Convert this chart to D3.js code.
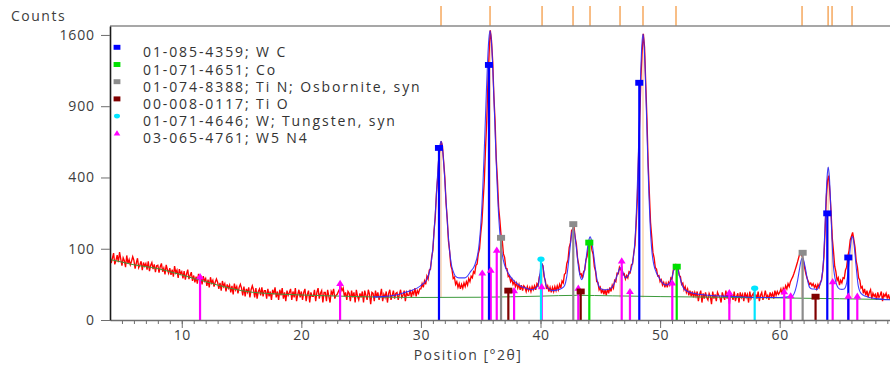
<!DOCTYPE html>
<html>
<head>
<meta charset="utf-8">
<script src="https://cdn.jsdelivr.net/npm/d3@7"></script>
<style>
  body { margin: 0; background: #fff; }
  svg { display: block; }
  text { font-family: "Open Sans", "Noto Sans", sans-serif; }
</style>
</head>
<body>
<svg id="chart" width="890" height="367"></svg>
<script>
// ---- Measured pattern: counts on a 0.1° grid starting at 4.0 °2θ ----
const obsStart = 4.0;
const obsStep = 0.1;
const observedCounts = [
  80,64,75,88,61,70,83,66,91,73,
  58,76,69,55,82,63,72,60,68,79,
  70,52,64,75,54,60,68,49,65,57,
  63,50,68,47,59,65,51,61,45,58,
  59,44,56,63,46,53,41,60,50,43,
  53,40,50,37,57,44,49,35,51,42,
  46,34,47,32,42,50,33,39,45,30,
  39,28,37,26,42,32,36,25,38,30,
  34,23,32,21,36,27,31,22,28,33,
  28,19,27,17,30,22,26,16,25,20,
  24,15,23,13,26,18,22,14,21,25,
  20,12,22,11,19,15,21,10,18,23,
  18,10,20,9,16,19,12,21,11,17,
  17,9,19,11,16,8,18,13,21,10,
  16,8,18,12,20,9,15,7,17,12,
  15,19,8,16,10,20,7,13,18,10,
  16,8,15,19,7,13,17,6,15,11,
  11,18,7,15,20,9,14,17,6,15,
  15,7,18,11,6,16,13,19,9,12,
  13,16,19,22,17,20,11,15,8,16,
  14,7,17,10,15,6,18,11,8,14,
  10,16,6,17,12,8,18,13,5,15,
  14,7,17,10,15,8,12,19,7,13,
  10,16,6,14,18,8,12,17,9,14,
  15,8,13,18,10,12,17,7,15,12,
  12,18,10,16,13,20,11,17,14,19,
  19,26,21,30,25,38,33,49,51,78,
  95,158,208,318,398,522,584,628,596,494,
  401,271,202,124,93,58,50,34,36,25,
  29,21,26,19,25,20,27,22,29,24,
  34,29,38,35,46,43,59,62,87,99,
  146,188,279,380,574,772,1102,1398,1652,1541,
  1322,987,781,512,384,249,197,142,125,86,
  77,53,52,37,39,29,33,25,29,22,
  27,20,25,18,24,17,23,21,16,22,
  17,21,16,22,18,23,18,26,23,37,
  42,63,58,37,31,19,23,16,21,15,
  21,16,22,17,23,18,25,20,30,27,
  41,43,63,71,104,117,158,163,172,134,
  113,74,60,41,42,34,46,49,71,80,
  108,112,119,96,85,56,47,29,28,18,
  21,14,19,13,18,12,19,14,21,16,
  24,20,31,29,43,42,55,50,54,40,
  42,33,39,35,46,44,60,62,89,110,
  182,291,534,806,1168,1431,1612,1466,1101,796,
  487,319,188,136,90,76,54,51,38,39,
  29,32,24,28,21,27,21,28,24,35,
  33,49,50,62,53,54,39,37,25,27,
  18,22,15,19,12,17,11,16,10,15,
  11,16,7,13,17,6,14,9,15,10,
  8,14,11,5,16,9,13,7,15,12,
  10,6,15,11,8,17,9,13,5,14,
  12,8,16,7,11,14,6,15,10,13,
  7,15,10,13,6,16,9,12,14,8,
  13,9,16,7,12,15,8,11,17,10,
  12,8,15,11,14,9,17,12,16,13,
  15,19,13,20,17,23,19,26,22,29,
  33,37,43,50,58,67,78,88,84,79,
  66,52,41,34,29,25,27,23,26,21,
  24,19,25,21,28,31,47,78,158,296,
  384,410,322,226,131,93,57,46,31,35,
  24,31,27,35,34,49,55,80,95,126,
  138,151,127,104,68,55,35,31,20,22,
  14,19,12,17,10,15,18,9,14,11,
  13,8,15,10,12,16,7,13,11,14,
  9,13,8,12,10
];

// ---- Calculated profile (fit) ----
const calcPos = [
  26.0,27.0,28.0,28.68,29.18,29.68,30.18,30.48,30.68,30.78,30.88,30.98,31.08,31.18,31.28,31.38,31.48,31.58,31.68,
  31.78,31.88,31.98,32.08,32.18,32.28,32.38,32.48,32.58,32.68,32.88,33.18,33.68,34.18,34.48,34.78,34.88,34.98,
  35.08,35.18,35.28,35.38,35.48,35.58,35.68,35.78,35.88,35.98,36.08,36.18,36.28,36.38,36.48,36.58,36.68,36.78,
  36.98,37.28,37.78,38.28,38.78,39.28,39.6,39.8,39.95,40.05,40.13,40.2,40.3,40.45,40.7,41.0,41.5,41.8,
  42.0,42.2,42.4,42.5,42.6,42.73,42.85,42.95,43.05,43.15,43.3,43.44,43.6,43.75,43.9,44.02,44.15,44.28,44.4,
  44.55,44.7,44.9,45.2,45.5,45.9,46.2,46.4,46.55,46.66,46.78,46.95,47.1,47.3,47.5,47.7,47.85,47.97,48.07,
  48.17,48.27,48.37,48.47,48.57,48.67,48.77,48.87,48.97,49.07,49.17,49.32,49.47,49.67,49.9,50.2,50.5,50.8,
  51.0,51.15,51.25,51.34,51.45,51.6,51.8,52.0,52.4,53.0,54.0,56.0,58.0,60.0,61.0,61.3,61.5,61.65,61.75,61.83,
  61.9,61.98,62.05,62.15,62.3,62.5,62.7,62.9,63.1,63.3,63.5,63.65,63.78,63.88,63.96,64.06,64.16,64.24,64.34,
  64.47,64.62,64.8,65.0,65.2,65.4,65.6,65.75,65.88,65.98,66.08,66.18,66.28,66.41,66.56,66.8,67.2,68.0,69.5
];
const calcCounts = [
  10.5,11,12.5,15,17,20,26,32,43,52,69,97,142,207,295,401,510,593,628,
  595,512,403,298,210,145,101,73,56,48,38,35,35,47,58,91,118,162,
  235,355,530,763,1045,1333,1555,1647,1555,1331,1042,760,527,351,232,159,115,88,
  61,44,30,23,20,18,20,24,42,60,62,57,41,24,19,17,18,20,
  23,38,80,112,144,166,148,117,88,60,39,32,40,61,95,122,136,122,95,
  60,35,22,18,18,20,28,39,48,54,51,41,35,38,46,65,102,177,302,
  510,810,1165,1478,1609,1478,1165,810,510,302,177,91,61,45,36,27,24,27,
  36,50,56,58,54,41,26,19,15.5,13.5,12,11,10,10,11,17,31,50,65,73,
  76,73,65,53,34,21,19,19,18,22,33,64,163,294,397,460,397,294,163,
  65,35,23,19,18.5,19,27,53,93,125,137,124,92,52,24,14,11,9,8
];

// ---- Background ----
const bgPos = [4,5,6,7,8,9,10,11,12,13,14,15,16,17,18,19,20,22,25,30,35,40,43,46,50,55,60,65,69.5];
const bgCounts = [72,66,60,56,52,46,40,34,29,24,20,17,15,14,13.3,12.8,12.3,11.6,10.7,10,10.2,11.2,12,11.5,10.8,10.2,9.6,8.9,8.2];

// ---- Peak list ----
const peakPos = [31.68,35.78,40.13,42.72,44.14,46.65,48.57,51.33,61.87,64.05,64.38,66.05];
const peakCounts = [628,1647,62,166,136,54,1609,58,76,460,160,137];

// ---- Reference patterns ----
const phaseLabels = [
  "01-085-4359; W C",
  "01-071-4651; Co",
  "01-074-8388; Ti N; Osbornite, syn",
  "00-008-0117; Ti O",
  "01-071-4646; W; Tungsten, syn",
  "03-065-4761; W5 N4"
];
const wcPos = [31.51,35.69,48.26,63.98,65.74];
const wcCounts = [583,1281,1108,224,77];
const coPos = [44.08,51.39];
const coCounts = [118,56];
const tinPos = [36.7,42.74,61.92];
const tinCounts = [133,181,89];
const tioPos = [37.31,43.36,63.0];
const tioCounts = [17,16,10.7];
const wPos = [40.04,57.91];
const wCounts = [72.6,19.8];
const w5n4Pos = [11.53,23.24,35.13,35.84,36.34,37.79,40.1,43.16,46.79,47.48,51.02,55.79,60.38,60.92,64.43,65.74,66.49];
const w5n4Counts = [37,26.5,43.5,49,96,17,22,20,69,16,27,14.7,15.8,11.6,29,11.3,11.3];

const yTicks = [0,100,400,900,1600];
const xTicks = [10,20,30,40,50,60];

// ---- Styling per phase ----
const phaseStyle = [
  { color: "#0000ff", shape: "square" },
  { color: "#00e000", shape: "square" },
  { color: "#8c8c8c", shape: "square" },
  { color: "#800000", shape: "square" },
  { color: "#00e5ff", shape: "circle" },
  { color: "#ff00ff", shape: "triangle" }
];
const phases = [
  { pos: wcPos, counts: wcCounts },
  { pos: coPos, counts: coCounts },
  { pos: tinPos, counts: tinCounts },
  { pos: tioPos, counts: tioCounts },
  { pos: wPos, counts: wCounts },
  { pos: w5n4Pos, counts: w5n4Counts }
];

const svg = d3.select("#chart");
const plotL = 110, plotR = 889.7, plotT = 26, plotB = 320;

const x = d3.scaleLinear().domain([4, 69.2]).range([plotL, plotR]);
const y = d3.scaleSqrt().domain([0, 1702]).range([plotB, plotT]);

svg.append("defs").append("clipPath").attr("id", "plotClip")
  .append("rect").attr("x", plotL).attr("y", plotT - 2).attr("width", 890 - plotL).attr("height", plotB - plotT + 2);

// peak-list strip above the frame
svg.append("g").selectAll("line").data(peakPos).join("line")
  .attr("x1", d => x(d)).attr("x2", d => x(d))
  .attr("y1", 6).attr("y2", plotT)
  .attr("stroke", "#f5a04f").attr("stroke-width", 1.6).attr("opacity", 0.85);

const plot = svg.append("g").attr("clip-path", "url(#plotClip)");

// peak markers inside the plot
plot.append("g").selectAll("line").data(peakPos).join("line")
  .attr("x1", d => x(d)).attr("x2", d => x(d))
  .attr("y1", y(10)).attr("y2", (d, i) => y(peakCounts[i]))
  .attr("stroke", "#f5a04f").attr("stroke-width", 1.2).attr("opacity", 0.55);

// observed pattern
const obsLine = d3.line()
  .x((d, i) => x(obsStart + i * obsStep))
  .y(d => y(d));
plot.append("path").datum(observedCounts)
  .attr("d", obsLine)
  .attr("fill", "none").attr("stroke", "#ff0000").attr("stroke-width", 1.35).attr("stroke-linejoin", "miter");

// background
const pairLine = d3.line().x(d => x(d[0])).y(d => y(d[1])).curve(d3.curveMonotoneX);
plot.append("path").datum(bgPos.map((p, i) => [p, bgCounts[i]]))
  .attr("d", pairLine)
  .attr("fill", "none").attr("stroke", "#3c9a3c").attr("stroke-width", 1);

// calculated profile
plot.append("path").datum(calcPos.map((p, i) => [p, calcCounts[i]]))
  .attr("d", pairLine)
  .attr("fill", "none").attr("stroke", "#2a2aff").attr("stroke-width", 1.1).attr("opacity", 0.9);

// reference sticks
const stickOrder = [5, 3, 4, 2, 1, 0];
stickOrder.forEach(k => {
  const ph = phases[k], st = phaseStyle[k];
  plot.append("g").selectAll("line").data(ph.pos).join("line")
    .attr("x1", d => x(d)).attr("x2", d => x(d))
    .attr("y1", y(0)).attr("y2", (d, i) => y(ph.counts[i]))
    .attr("stroke", st.color).attr("stroke-width", 2.2);
});

function drawMarker(g, shape, color, cx, cy, s) {
  if (shape === "square") {
    g.append("rect").attr("x", cx - s * 0.62).attr("y", cy - s * 0.45)
      .attr("width", s * 1.24).attr("height", s * 0.9).attr("fill", color);
  } else if (shape === "circle") {
    g.append("ellipse").attr("cx", cx).attr("cy", cy).attr("rx", s * 0.55).attr("ry", s * 0.42).attr("fill", color);
  } else {
    g.append("path")
      .attr("d", `M${cx},${cy - s * 0.55}L${cx + s * 0.6},${cy + s * 0.4}L${cx - s * 0.6},${cy + s * 0.4}Z`)
      .attr("fill", color);
  }
}

const markers = plot.append("g");
stickOrder.forEach(k => {
  const ph = phases[k], st = phaseStyle[k];
  ph.pos.forEach((p, i) => drawMarker(markers, st.shape, st.color, x(p), y(ph.counts[i]), 6.5));
});

// frame
svg.append("line").attr("x1", plotL).attr("x2", 890).attr("y1", plotT).attr("y2", plotT)
  .attr("stroke", "#8a8a8a").attr("stroke-width", 1.4);

// x axis
const xAxisG = svg.append("g").attr("transform", `translate(0,${plotB})`);
xAxisG.call(d3.axisBottom(x).tickValues(d3.range(5, 70)).tickSize(4).tickSizeOuter(0).tickFormat(""));
const xMajor = svg.append("g").attr("transform", `translate(0,${plotB})`)
  .call(d3.axisBottom(x).tickValues(xTicks).tickSize(8).tickSizeOuter(0).tickFormat(d3.format("d")));
xMajor.select(".domain").remove();
xAxisG.select(".domain").attr("stroke", "#6e6e6e").attr("stroke-width", 1.4);
svg.selectAll(".tick line").attr("stroke", "#6e6e6e");
xMajor.selectAll("text")
  .attr("y", 10).attr("fill", "#3d3d3d")
  .style("font-size", "14px").style("letter-spacing", "0.6px");

// y axis
const yAxisG = svg.append("g").attr("transform", `translate(${plotL},0)`)
  .call(d3.axisLeft(y).tickValues(yTicks).tickSize(9).tickSizeOuter(0).tickFormat(d3.format("d")));
yAxisG.select(".domain").attr("stroke", "#1a1a1a").attr("stroke-width", 1.6);
yAxisG.selectAll(".tick line").attr("stroke", "#6e6e6e");
yAxisG.selectAll("text")
  .attr("x", -15).attr("fill", "#3d3d3d")
  .style("font-size", "14px").style("letter-spacing", "0.9px");

// axis titles
svg.append("text").attr("x", 11).attr("y", 20.5).text("Counts")
  .attr("fill", "#3d3d3d").style("font-size", "14px").style("letter-spacing", "1.5px");
svg.append("text").attr("x", 468).attr("y", 360).attr("text-anchor", "middle").text("Position [°2θ]")
  .attr("fill", "#3d3d3d").style("font-size", "14px").style("letter-spacing", "1.5px");

// legend
const legend = svg.append("g");
phaseLabels.forEach((label, i) => {
  const cy = 47.3 + i * 17.2;
  drawMarker(legend, phaseStyle[i].shape, phaseStyle[i].color, 117, cy, 5.5);
  legend.append("text").attr("x", 143).attr("y", cy + 10).text(label)
    .attr("fill", "#333").style("font-size", "14px").style("letter-spacing", "1.9px");
});
</script>
</body>
</html>
